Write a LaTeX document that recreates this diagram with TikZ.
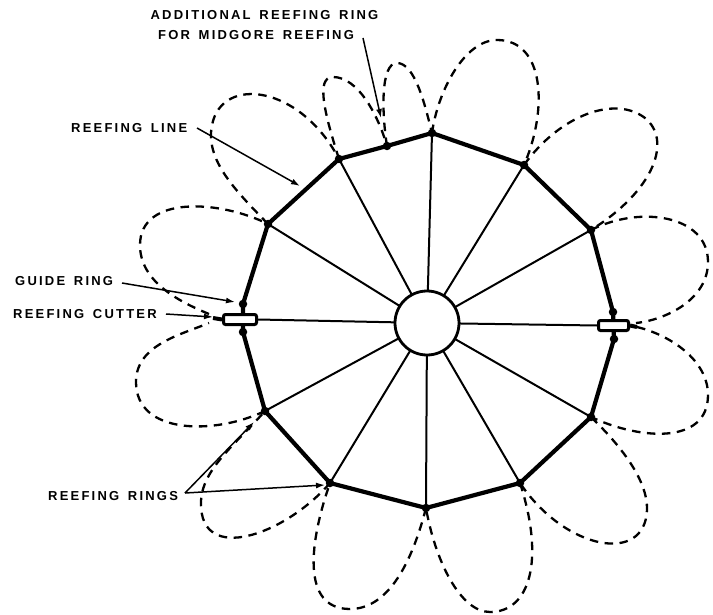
\documentclass[tikz,border=0pt]{standalone}
\usepackage{fontspec}
\setmainfont{Liberation Sans}[LetterSpace=17,WordSpace=1.5]
\usetikzlibrary{arrows.meta}
\tikzset{
 rim/.style={line width=4.2pt,black},
 spoke/.style={line width=2pt,black},
 loopline/.style={line width=2.3pt,dash pattern=on 8.5pt off 6.5pt,black},
 leader/.style={line width=1.5pt,-{Latex[length=9pt,width=6pt]}},
 ring/.style={circle,fill=black,inner sep=0pt,minimum size=8.5pt},
 lab/.style={font=\fontsize{13}{15}\selectfont\bfseries,inner sep=0pt,align=center},
 cutter/.style={draw,line width=3pt,fill=white,rounded corners=2pt,inner sep=0pt}
}
\begin{document}
\begin{tikzpicture}[x=1pt,y=-1pt]
\useasboundingbox (0,0) rectangle (713,615);
\foreach \n/\x/\y in {a/432/133,m/387/146,b/339/159,c/268/224,d/243/304,e/243/332,f/265/411,g/330/483,h/426/508,i/520/483,j/591/417,k/614/339,l/613/312,n/591/230,o/524/165}
  {\node[ring] (\n) at (\x,\y) {};}
\coordinate (hubc) at (427,323);
% rim
\draw[rim] (a.center)--(m.center)--(b.center)--(c.center)--(d.center)--(e.center)--(f.center)--(g.center)--(h.center)--(i.center)--(j.center)--(k.center)--(l.center)--(n.center)--(o.center)--cycle;
% spokes
\foreach \p in {a,b,c,f,g,h,i,j,n,o} {\draw[spoke] (hubc)--(\p.center);}
\node[cutter,minimum width=33pt,minimum height=10pt] (cutl) at (240,319.5) {};
\node[cutter,minimum width=30pt,minimum height=10pt] (cutr) at (613.5,325.5) {};
\draw[spoke] (hubc)--(cutl.east);
\draw[spoke] (hubc)--(cutr.west);
\node[circle,draw,line width=2.8pt,fill=white,minimum size=64pt,inner sep=0pt] (hub) at (hubc) {};
% loop ends at the cutters
\coordinate (lu) at (209,314);
\coordinate (ll) at (209,323);
\coordinate (lt) at (213,318);
\coordinate (ru) at (636,323);
\coordinate (rl) at (637,327);
\draw[line width=4pt] (lt)--(cutl.west);
\draw[line width=4pt] (cutr.east)--(rl);
% dashed loops
\draw[loopline] (a.center) .. controls (438,90) and (465,40) .. (497,40) .. controls (545,40) and (548,110) .. (o.center);
\draw[loopline] (o.center) .. controls (560,115) and (615,95) .. (645,118) .. controls (672,140) and (655,190) .. (n.center);
\draw[loopline] (n.center) .. controls (640,205) and (708,215) .. (708,262) .. controls (708,300) and (665,320) .. (ru);
\draw[loopline] (rl) .. controls (670,335) and (708,360) .. (708,395) .. controls (708,445) and (640,440) .. (j.center);
\draw[loopline] (j.center) .. controls (620,445) and (648,480) .. (647,510) .. controls (645,565) and (565,550) .. (i.center);
\draw[loopline] (i.center) .. controls (545,560) and (530,612) .. (490,612) .. controls (460,612) and (435,560) .. (h.center);
\draw[loopline] (h.center) .. controls (410,570) and (385,609) .. (350,609) .. controls (300,609) and (310,540) .. (g.center);
\draw[loopline] (g.center) .. controls (285,535) and (200,565) .. (201,503) .. controls (201,470) and (235,445) .. (f.center);
\draw[loopline] (f.center) .. controls (215,435) and (136,435) .. (136,382) .. controls (136,345) and (180,335) .. (ll);
\draw[loopline] (lu) .. controls (175,300) and (140,280) .. (140,245) .. controls (140,195) and (220,200) .. (c.center);
\draw[loopline] (c.center) .. controls (235,190) and (205,160) .. (212,125) .. controls (222,75) and (300,85) .. (b.center);
\draw[loopline] (b.center) .. controls (325,115) and (315,77) .. (333,77) .. controls (358,77) and (378,115) .. (m.center);
\draw[loopline] (m.center) .. controls (382,115) and (380,63) .. (397,63) .. controls (415,63) and (425,105) .. (a.center);
% labels
\node[lab] (addl) at (264.5,15) {ADDITIONAL REEFING RING};
\node[lab] (addm) at (256,35) {FOR MIDGORE REEFING};
\node[lab,anchor=west] (rl1) at (71,128) {REEFING LINE};
\node[lab,anchor=west] (gr) at (15,281) {GUIDE RING};
\node[lab,anchor=west] (rc) at (13,314) {REEFING CUTTER};
\node[lab,anchor=west] (rr) at (48,496) {REEFING RINGS};
% leader end points
\coordinate (s1) at (363,38);
\coordinate (s2) at (197,128);
\coordinate (s3) at (122,283);
\coordinate (s4) at (166,314);
\coordinate (s5) at (185,493);
\coordinate (t1) at (381,118);
\coordinate (t2) at (300,186);
\coordinate (t3) at (235,302);
\coordinate (t4) at (213,317);
\coordinate (t5) at (254,422);
\coordinate (t6) at (325,485);
\draw[leader] (s1)--(t1);
\draw[leader] (s2)--(t2);
\draw[leader] (s3)--(t3);
\draw[leader] (s4)--(t4);
\draw[leader] (s5)--(t5);
\draw[leader] (s5)--(t6);
\end{tikzpicture}
\end{document}
